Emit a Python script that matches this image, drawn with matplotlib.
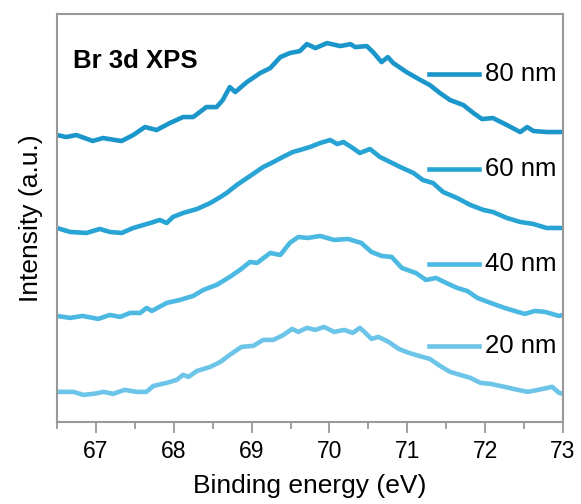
import matplotlib.pyplot as plt
from matplotlib.ticker import MultipleLocator

plt.rcParams['font.family'] = ['Liberation Sans', 'DejaVu Sans']

# Br 3d spectra, binding energy (eV) vs intensity (a.u., offset per film)
e80 = [66.50, 66.62, 66.75, 66.96, 67.09, 67.33, 67.48, 67.63, 67.78, 67.95,
       68.12, 68.25, 68.42, 68.55, 68.63, 68.72, 68.79, 68.94, 69.11, 69.24,
       69.37, 69.49, 69.62, 69.71, 69.82, 69.97, 70.14, 70.27, 70.33, 70.48,
       70.56, 70.67, 70.75, 70.82, 70.99, 71.17, 71.29, 71.42, 71.55, 71.72,
       71.85, 71.96, 72.10, 72.28, 72.45, 72.54, 72.62, 72.79, 72.97, 73.00]
i80 = [287, 285, 287, 281, 284, 281, 287, 295, 292, 299,
       305, 305, 315, 315, 322, 335, 330, 340, 349, 354,
       365, 369, 371, 378, 374, 379, 376, 378, 375, 376,
       370, 360, 365, 359, 350, 342, 337, 329, 322, 317,
       309, 303, 304, 297, 290, 295, 291, 290, 290, 290]

e60 = [66.50, 66.67, 66.88, 67.05, 67.18, 67.33, 67.48, 67.70, 67.82, 67.91,
       67.99, 68.12, 68.30, 68.47, 68.60, 68.68, 68.81, 68.98, 69.15, 69.28,
       69.40, 69.53, 69.62, 69.75, 69.88, 70.01, 70.10, 70.18, 70.30, 70.39,
       70.52, 70.65, 70.78, 70.91, 71.08, 71.20, 71.33, 71.46, 71.64, 71.81,
       71.98, 72.10, 72.28, 72.45, 72.62, 72.79, 72.97, 73.00]
i60 = [194, 190, 189, 193, 190, 189, 194, 199, 202, 199,
       205, 209, 213, 219, 225, 229, 237, 246, 255, 260,
       265, 270, 272, 275, 279, 282, 278, 280, 274, 269,
       273, 265, 260, 255, 249, 242, 239, 230, 224, 217,
       212, 210, 204, 200, 198, 194, 194, 194]

e40 = [66.50, 66.67, 66.83, 67.03, 67.18, 67.31, 67.44, 67.57, 67.65, 67.72,
       67.91, 68.08, 68.25, 68.38, 68.55, 68.72, 68.85, 68.98, 69.07, 69.24,
       69.37, 69.49, 69.60, 69.72, 69.88, 70.06, 70.24, 70.41, 70.54, 70.67,
       70.80, 70.93, 71.11, 71.24, 71.37, 71.50, 71.64, 71.77, 71.90, 72.07,
       72.25, 72.42, 72.51, 72.64, 72.77, 72.95, 73.00]
i40 = [106, 104, 106, 103, 107, 105, 109, 109, 114, 111,
       119, 122, 126, 132, 137, 145, 152, 160, 159, 169,
       167, 179, 185, 184, 186, 182, 183, 179, 170, 166,
       165, 154, 149, 142, 144, 139, 134, 131, 124, 119,
       114, 110, 108, 111, 110, 106, 107]

e20 = [66.50, 66.71, 66.84, 66.97, 67.10, 67.22, 67.37, 67.52, 67.65, 67.74,
       67.91, 68.04, 68.12, 68.19, 68.30, 68.47, 68.60, 68.72, 68.87, 69.02,
       69.15, 69.28, 69.41, 69.52, 69.60, 69.71, 69.82, 69.93, 70.06, 70.19,
       70.30, 70.39, 70.45, 70.54, 70.63, 70.76, 70.89, 71.02, 71.15, 71.29,
       71.42, 71.55, 71.68, 71.81, 71.94, 72.07, 72.25, 72.42, 72.55, 72.68,
       72.86, 72.95, 73.00]
i20 = [30, 30, 27, 28, 30, 28, 32, 30, 30, 36,
       39, 42, 47, 45, 51, 55, 60, 67, 75, 76,
       82, 82, 87, 93, 90, 94, 92, 95, 90, 92,
       89, 94, 90, 83, 85, 80, 73, 69, 66, 63,
       56, 50, 47, 44, 39, 38, 35, 32, 30, 32,
       35, 29, 28]

labels = ['80 nm', '60 nm', '40 nm', '20 nm']
colors = ['#1a96ca', '#27a3d4', '#4cb9e2', '#6cc5e8']
label_y = [0.852, 0.620, 0.387, 0.185]

fig, ax = plt.subplots(figsize=(5.81, 5.04), dpi=100)
fig.subplots_adjust(left=0.098, right=0.969, top=0.972, bottom=0.163)

for e, i, c in zip([e80, e60, e40, e20], [i80, i60, i40, i20], colors):
    ax.plot(e, i, color=c, lw=3.3, solid_joinstyle='round',
            solid_capstyle='round')

# short line + text tags on the right instead of a legend box
for lab, c, y in zip(labels, colors, label_y):
    ax.plot([0.735, 0.835], [y, y], color=c, lw=3.3, transform=ax.transAxes)
    ax.text(0.845, y, lab, transform=ax.transAxes, fontsize=18.5,
            va='center', ha='left')

ax.text(0.032, 0.885, 'Br 3d XPS', transform=ax.transAxes, fontsize=18.5,
        fontweight='bold', va='center')

ax.set_xlim(66.5, 73)
ax.set_ylim(0, 408)
ax.xaxis.set_major_locator(MultipleLocator(1))
ax.xaxis.set_minor_locator(MultipleLocator(0.5))
ax.set_yticks([])
ax.tick_params(axis='x', which='major', direction='out', length=8, width=1.3,
               color='#999999', labelsize=16.5, pad=5)
ax.tick_params(axis='x', which='minor', direction='out', length=5, width=1.3,
               color='#999999')
for s in ax.spines.values():
    s.set_color('#999999')
    s.set_linewidth(1.5)

ax.set_xlabel('Binding energy (eV)', fontsize=19, labelpad=8)
ax.set_ylabel('Intensity (a.u.)', fontsize=19, labelpad=10)

fig.savefig('out.png', dpi=100)
